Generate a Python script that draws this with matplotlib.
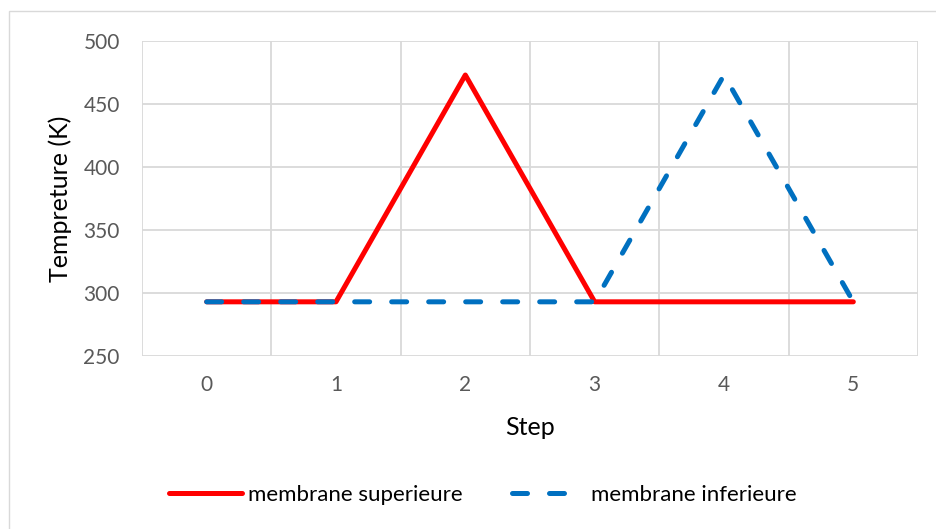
import matplotlib
matplotlib.use("Agg")
import matplotlib.pyplot as plt
from matplotlib.patches import Rectangle

steps = [0, 1, 2, 3, 4, 5]
superieure = [293, 293, 473, 293, 293, 293]
inferieure = [293, 293, 293, 293, 473, 293]
yticks = [250, 300, 350, 400, 450, 500]

plt.rcParams['font.family'] = ['Lato', 'DejaVu Sans']

W, H = 936, 529
fig = plt.figure(figsize=(W/100, H/100), dpi=100)
fig.patch.set_facecolor('white')
fig.add_artist(Rectangle((9/W, -0.01), 1.0, 1 - 11/H + 0.01, transform=fig.transFigure,
                         fill=False, edgecolor='#d9d9d9', linewidth=1.0))

ax = fig.add_axes([142/W, 1 - 356/H, (918-142)/W, (356-41)/H])
ax.set_xlim(-0.5, 5.5)
ax.set_ylim(250, 500)
ax.set_yticks(yticks)
ax.set_xticks(steps)
ax.set_xticks([x + 0.5 for x in steps[:-1]] + [-0.5, 5.5], minor=True)
ax.grid(False)
ax.yaxis.grid(True, color='#d9d9d9', linewidth=1.3)
ax.xaxis.grid(True, which='minor', color='#d9d9d9', linewidth=1.3)
for s in ax.spines.values():
    s.set_visible(False)
ax.tick_params(axis='both', which='both', length=0, labelsize=15, labelcolor='#595959')
ax.tick_params(axis='x', pad=14)
ax.tick_params(axis='y', pad=16)

ax.plot(steps, superieure, color='#ff0000', linewidth=3.6, solid_capstyle='round',
        label='membrane superieure', zorder=3)
ax.plot(steps, inferieure, color='#0070c0', linewidth=3.6, linestyle=(0, (3.0, 4.4)),
        dash_capstyle='round', label='membrane inferieure', zorder=4)

ax.set_xlabel('Step', fontsize=18, color='#000000', labelpad=15)
ax.set_ylabel('Tempreture (K)', fontsize=18, color='#000000', labelpad=8)

leg = fig.legend(loc='center left', bbox_to_anchor=(149/W, 1 - 495/H), ncol=2, frameon=False,
                 fontsize=16, handlelength=3.3, columnspacing=2.2, handletextpad=0.27)

fig.savefig('out.png', dpi=100, facecolor='white')
